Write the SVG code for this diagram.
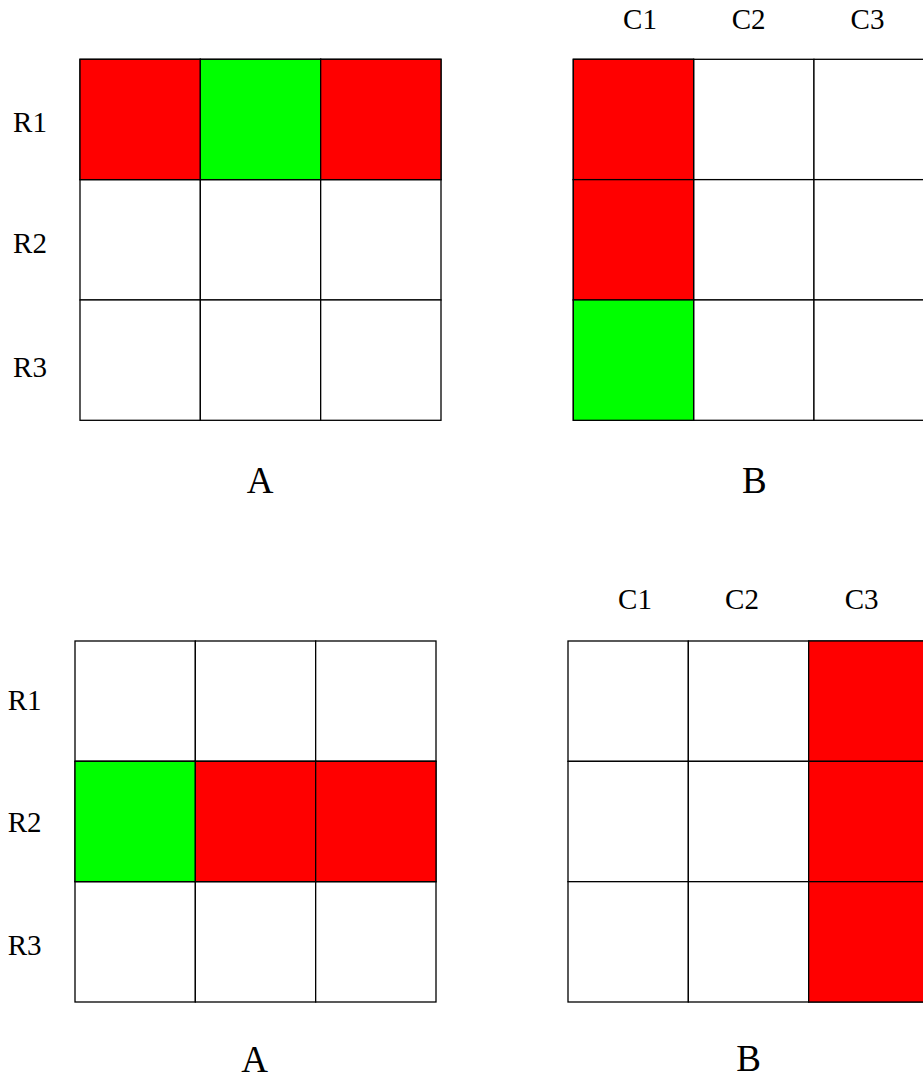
<svg xmlns="http://www.w3.org/2000/svg" width="923" height="1078" viewBox="0 0 923 1078">
<style>
.c{stroke:#000;stroke-width:1.3;fill:#fff}
.r{fill:#ff0000}
.g{fill:#00ff00}
.l{font-family:"Liberation Serif","DejaVu Serif",serif;font-size:29px;fill:#000;text-anchor:middle}
.t{font-family:"Liberation Serif","DejaVu Serif",serif;font-size:37px;fill:#000;text-anchor:middle}
</style>
<defs>
<g id="grid">
<rect class="c" x="0" y="0" width="120.33" height="120.33"/>
<rect class="c" x="120.33" y="0" width="120.33" height="120.33"/>
<rect class="c" x="240.67" y="0" width="120.33" height="120.33"/>
<rect class="c" x="0" y="120.33" width="120.33" height="120.33"/>
<rect class="c" x="120.33" y="120.33" width="120.33" height="120.33"/>
<rect class="c" x="240.67" y="120.33" width="120.33" height="120.33"/>
<rect class="c" x="0" y="240.67" width="120.33" height="120.33"/>
<rect class="c" x="120.33" y="240.67" width="120.33" height="120.33"/>
<rect class="c" x="240.67" y="240.67" width="120.33" height="120.33"/>
</g>
</defs>
<rect width="923" height="1078" fill="#fff"/>

<g id="top-A">
<g transform="translate(80,59.3)">
<use href="#grid"/>
<rect class="c r" x="0" y="0" width="120.33" height="120.33"/>
<rect class="c g" x="120.33" y="0" width="120.33" height="120.33"/>
<rect class="c r" x="240.67" y="0" width="120.33" height="120.33"/>
</g>
<text class="l" x="30" y="131.7">R1</text>
<text class="l" x="30" y="252.7">R2</text>
<text class="l" x="30" y="376.5">R3</text>
<text class="t" x="260" y="493">A</text>
</g>

<g id="top-B">
<g transform="translate(573.3,59.3)">
<use href="#grid"/>
<rect class="c r" x="0" y="0" width="120.33" height="120.33"/>
<rect class="c r" x="0" y="120.33" width="120.33" height="120.33"/>
<rect class="c g" x="0" y="240.67" width="120.33" height="120.33"/>
</g>
<text class="l" x="640" y="29.3">C1</text>
<text class="l" x="748.7" y="29.3">C2</text>
<text class="l" x="867.5" y="29.3">C3</text>
<text class="t" x="754.3" y="492.7">B</text>
</g>

<g id="bottom-A">
<g transform="translate(75,641)">
<use href="#grid"/>
<rect class="c g" x="0" y="120.33" width="120.33" height="120.33"/>
<rect class="c r" x="120.33" y="120.33" width="120.33" height="120.33"/>
<rect class="c r" x="240.67" y="120.33" width="120.33" height="120.33"/>
</g>
<text class="l" x="24.7" y="710">R1</text>
<text class="l" x="24.7" y="831.5">R2</text>
<text class="l" x="24.7" y="954.5">R3</text>
<text class="t" x="254.5" y="1071.5">A</text>
</g>

<g id="bottom-B">
<g transform="translate(568,641)">
<use href="#grid"/>
<rect class="c r" x="240.67" y="0" width="120.33" height="120.33"/>
<rect class="c r" x="240.67" y="120.33" width="120.33" height="120.33"/>
<rect class="c r" x="240.67" y="240.67" width="120.33" height="120.33"/>
</g>
<text class="l" x="635" y="609">C1</text>
<text class="l" x="742" y="609">C2</text>
<text class="l" x="861.7" y="609">C3</text>
<text class="t" x="748.5" y="1071">B</text>
</g>

<g id="connectors"/>
</svg>
